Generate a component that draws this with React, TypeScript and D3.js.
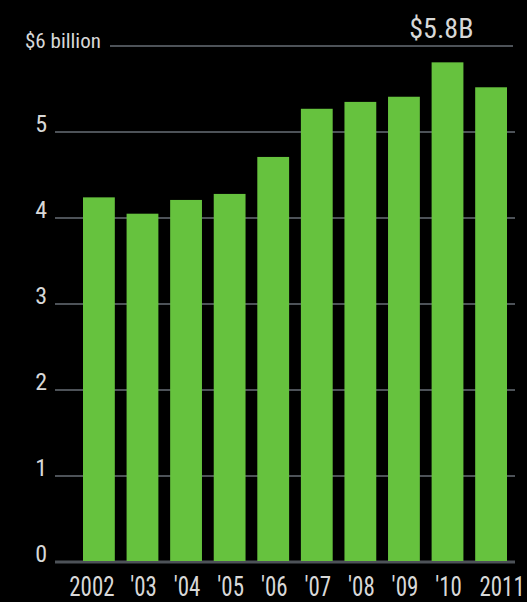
import React from "react";
import * as d3 from "d3";

const years = ["2002", "2003", "2004", "2005", "2006", "2007", "2008", "2009", "2010", "2011"];
const yearLabels = ["2002", "'03", "'04", "'05", "'06", "'07", "'08", "'09", "'10", "2011"];
const revenue = [4.24, 4.05, 4.21, 4.28, 4.71, 5.27, 5.35, 5.41, 5.81, 5.52];
const yTicks = [0, 1, 2, 3, 4, 5];
const topLabel = "$6 billion";
const peakLabel = "$5.8B";

const W = 527;
const H = 602;
const FONT = "'Liberation Sans Narrow', 'Arial Narrow', 'Roboto Condensed', sans-serif";

export default function App() {
  const x = d3.scaleBand<string>().domain(years).range([83, 507]).paddingInner(0.27).paddingOuter(0);
  const y = d3.scaleLinear().domain([0, 6]).range([562, 46]);
  const grid = "#4d5258";
  const textCol = "#d8d8d8";
  const peakIdx = revenue.indexOf(d3.max(revenue) as number);
  const labelShift = (i: number) => (i === 0 ? -7 : i === years.length - 1 ? 11 : 1);

  return (
    <div style={{ position: "fixed", left: 0, top: 0, width: W, height: H, background: "#000" }}>
      <svg width={W} height={H} style={{ display: "block" }}>
        <rect width={W} height={H} fill="#000" />
        {yTicks.map((t) => (
          <g key={t}>
            <line x1={55} x2={515} y1={y(t)} y2={y(t)} stroke={grid} strokeWidth={t === 0 ? 3 : 2} />
            <text x={47} y={y(t)} textAnchor="end" fill={textCol} fontFamily={FONT} fontSize={24}>
              {t}
            </text>
          </g>
        ))}
        <line x1={110} x2={513} y1={y(6)} y2={y(6)} stroke={grid} strokeWidth={2} />
        <text x={25} y={y(6) + 2} fill={textCol} fontFamily={FONT} fontSize={21}>
          {topLabel}
        </text>
        <text
          x={(x(years[peakIdx]) as number) + x.bandwidth() + 10}
          y={38}
          textAnchor="end"
          fill={textCol}
          fontFamily={FONT}
          fontSize={28}
        >
          {peakLabel}
        </text>
        {years.map((yr, i) => (
          <rect
            key={yr}
            x={x(yr)}
            y={y(revenue[i])}
            width={x.bandwidth()}
            height={y(0) - y(revenue[i]) - 1}
            fill="#66c23e"
          />
        ))}
        {years.map((yr, i) => (
          <text
            key={"l" + yr}
            transform={`translate(${(x(yr) as number) + x.bandwidth() / 2 + labelShift(i)},596) scale(0.85,1)`}
            textAnchor="middle"
            fill={textCol}
            fontFamily={FONT}
            fontSize={27}
          >
            {yearLabels[i]}
          </text>
        ))}
      </svg>
    </div>
  );
}
